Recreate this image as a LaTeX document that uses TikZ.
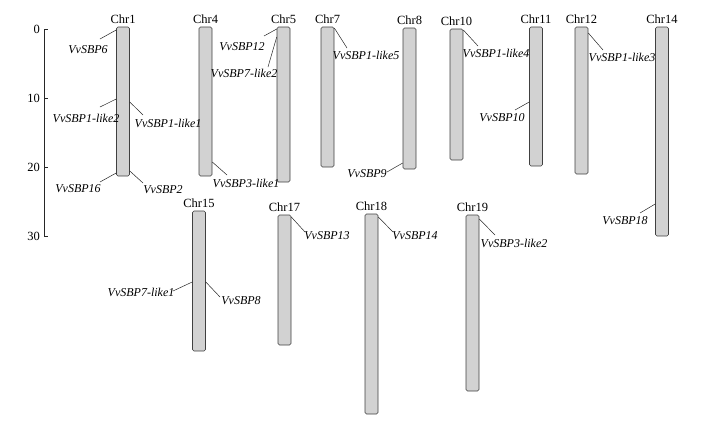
\documentclass[tikz,border=0pt]{standalone}
\usepackage{fontspec}
\setmainfont{Liberation Serif}
\usetikzlibrary{positioning}

\begin{document}
\begin{tikzpicture}[x=1pt, y=-1pt,
    chrom/.style={draw=black!75, fill=gray!35, rounded corners=1.5pt, line width=0.6pt, minimum width=13pt, inner sep=0pt},
    chrname/.style={font=\fontsize{12.5}{14}\selectfont, inner sep=0pt, above=3pt of #1},
    gene/.style={font=\fontsize{12}{14}\selectfont\itshape, inner sep=0pt},
    lead/.style={black!85, line width=0.5pt}]
        \useasboundingbox (0,0) rectangle (703,421);

        % Scala (Mb)
        \draw[lead] (44,29) -- (44,236);
        \foreach \v [evaluate=\v as \yy using 29+6.9*\v] in {0,10,20,30} {
            \draw[lead] (44,\yy) -- (48,\yy);
            \node[anchor=east, font=\fontsize{12.5}{14}\selectfont, inner sep=0pt] (t\v) at (40,\yy) {\v};
        }

        % Cromosomi, prima fila
        \node[chrom, minimum height=149pt] (c1) at (123,101.5) {};
        \node[chrom, minimum height=149pt] (c4) at (205.5,101.5) {};
        \node[chrom, minimum height=155pt] (c5) at (283.5,104.5) {};
        \node[chrom, minimum height=140pt] (c7) at (327.5,97) {};
        \node[chrom, minimum height=141pt] (c8) at (409.5,98.5) {};
        \node[chrom, minimum height=131pt] (c10) at (456.5,94.5) {};
        \node[chrom, minimum height=139pt] (c11) at (536,96.5) {};
        \node[chrom, minimum height=147pt] (c12) at (581.5,100.5) {};
        \node[chrom, minimum height=209pt] (c14) at (662,131.5) {};

        % Cromosomi, seconda fila
        \node[chrom, minimum height=140pt] (c15) at (199,281) {};
        \node[chrom, minimum height=130pt] (c17) at (284.5,280) {};
        \node[chrom, minimum height=200pt] (c18) at (371.5,314) {};
        \node[chrom, minimum height=176pt] (c19) at (472.5,303) {};

        % Nomi dei cromosomi
        \foreach \c in {1,4,5,7,8,10,11,12,14,15,17,18,19}
            \node[chrname=c\c] (n\c) {Chr\c};

        % Geni
        \node[gene] (g6) at (88,50) {VvSBP6};
        \node[gene] (g1l2) at (86,118) {VvSBP1-like2};
        \node[gene] (g1l1) at (168,123) {VvSBP1-like1};
        \node[gene] (g16) at (78,189) {VvSBP16};
        \node[gene] (g2) at (163,190) {VvSBP2};
        \node[gene] (g3l1) at (246,183) {VvSBP3-like1};
        \node[gene] (g12) at (242,47) {VvSBP12};
        \node[gene] (g7l2) at (244,73) {VvSBP7-like2};
        \node[gene] (g1l5) at (366,55) {VvSBP1-like5};
        \node[gene] (g9) at (367,174) {VvSBP9};
        \node[gene] (g1l4) at (496,53) {VvSBP1-like4};
        \node[gene] (g10) at (502,118) {VvSBP10};
        \node[gene] (g1l3) at (622,57) {VvSBP1-like3};
        \node[gene] (g18) at (625,221) {VvSBP18};
        \node[gene] (g7l1) at (141,292) {VvSBP7-like1};
        \node[gene] (g8) at (241,301) {VvSBP8};
        \node[gene] (g13) at (327,236) {VvSBP13};
        \node[gene] (g14) at (415,236) {VvSBP14};
        \node[gene] (g3l2) at (514,243) {VvSBP3-like2};

        % Linee di posizione
        \draw[lead] (c1.west |- 0,30) -- ([shift={(12,-11)}]g6.center);
        \draw[lead] (c1.west |- 0,99) -- ([shift={(14,-11)}]g1l2.center);
        \draw[lead] (c1.east |- 0,102) -- ([shift={(-25,-8)}]g1l1.center);
        \draw[lead] (c1.west |- 0,173) -- ([shift={(22,-7)}]g16.center);
        \draw[lead] (c1.east |- 0,171) -- ([shift={(-20,-7)}]g2.center);
        \draw[lead] (c4.east |- 0,162) -- ([shift={(-19,-8)}]g3l1.center);
        \draw[lead] (c5.west |- 0,29) -- ([shift={(22,-11)}]g12.center);
        \draw[lead] (c5.west |- 0,37) -- ([shift={(24,-6)}]g7l2.center);
        \draw[lead] (c7.east |- 0,28) -- ([shift={(-19,-7)}]g1l5.center);
        \draw[lead] (c8.west |- 0,163) -- ([shift={(20,-2)}]g9.center);
        \draw[lead] (c10.east |- 0,30) -- ([shift={(-18,-7)}]g1l4.center);
        \draw[lead] (c11.west |- 0,102) -- ([shift={(13,-8)}]g10.center);
        \draw[lead] (c12.east |- 0,33) -- ([shift={(-19,-7)}]g1l3.center);
        \draw[lead] (c14.west |- 0,204) -- ([shift={(15,-8)}]g18.center);
        \draw[lead] (c15.west |- 0,282) -- ([shift={(32,-1)}]g7l1.center);
        \draw[lead] (c15.east |- 0,282) -- ([shift={(-21,-4)}]g8.center);
        \draw[lead] (c17.east |- 0,217) -- ([shift={(-22,-4)}]g13.center);
        \draw[lead] (c18.east |- 0,217) -- ([shift={(-22,-4)}]g14.center);
        \draw[lead] (c19.east |- 0,219) -- ([shift={(-19,-8)}]g3l2.center);
\end{tikzpicture}
\end{document}
